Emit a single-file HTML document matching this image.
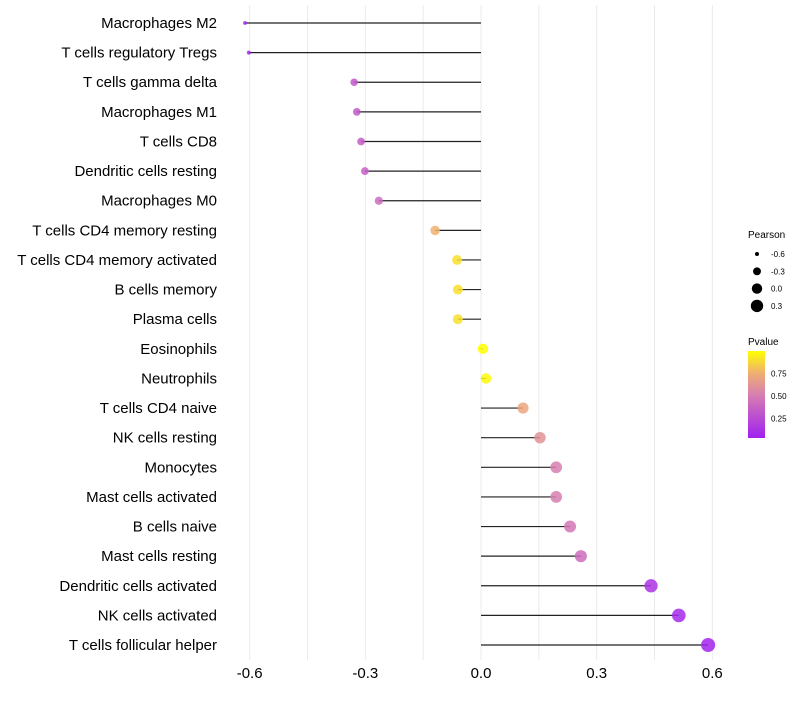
<!DOCTYPE html>
<html><head><meta charset="utf-8"><style>
body{margin:0;background:#fff;font-family:"Liberation Sans",sans-serif}
</style></head><body>
<svg id="chart" width="800" height="700" xmlns="http://www.w3.org/2000/svg" font-family="Liberation Sans, sans-serif">
<defs><linearGradient id="pg" x1="0" y1="1" x2="0" y2="0">
<stop offset="0" stop-color="#a020f0"/><stop offset="0.5" stop-color="#d77fb0"/><stop offset="0.75" stop-color="#f0b070"/><stop offset="1" stop-color="#ffff00"/></linearGradient></defs>
<g id="grid"></g><g id="marks"></g><g id="labels"></g><g id="xticks"></g>
<g>
<text x="748" y="238" font-size="10">Pearson</text>
<g id="sizeLegend"></g>
<text x="748" y="345" font-size="10">Pvalue</text>
<rect x="748" y="351" width="17" height="87" fill="url(#pg)"/>
<g id="colorLegend"></g>
</g>
</svg>
<script>
const categories=["Macrophages M2","T cells regulatory  Tregs","T cells gamma delta","Macrophages M1","T cells CD8","Dendritic cells resting","Macrophages M0","T cells CD4 memory resting","T cells CD4 memory activated","B cells memory","Plasma cells","Eosinophils","Neutrophils","T cells CD4 naive","NK cells resting","Monocytes","Mast cells activated","B cells naive","Mast cells resting","Dendritic cells activated","NK cells activated","T cells follicular helper"];
const pearson=[-0.612,-0.602,-0.329,-0.322,-0.311,-0.301,-0.265,-0.119,-0.062,-0.06,-0.06,0.005,0.013,0.109,0.153,0.195,0.195,0.231,0.259,0.441,0.513,0.589];
const pvalues=[0.02,0.03,0.3,0.3,0.32,0.33,0.4,0.75,0.9,0.9,0.9,1.0,0.98,0.7,0.6,0.5,0.5,0.45,0.4,0.1,0.05,0.02];
const xTicks=[-0.6,-0.3,0,0.3,0.6];
const xTickLabels=["-0.6","-0.3","0.0","0.3","0.6"];
const sizeLegendVals=[-0.6,-0.3,0.0,0.3];
const colorLegendVals=[0.25,0.5,0.75];
const NS="http://www.w3.org/2000/svg";
const x=v=>481+v*385.6;
const y=i=>23+i*29.62;
const r=v=>Math.sqrt(Math.max(3,4+46*(v+0.6)/1.2));
const stops=[[0,[160,32,240]],[0.5,[215,127,176]],[0.75,[240,176,112]],[1,[255,255,0]]];
function col(p){for(let k=1;k<stops.length;k++){if(p<=stops[k][0]){const a=stops[k-1],b=stops[k],t=(p-a[0])/(b[0]-a[0]);return "rgb("+a[1].map((c,j)=>Math.round(c+(b[1][j]-c)*t)).join(",")+")";}}return "rgb(255,255,0)";}
function mk(tag,attrs,parent){const e=document.createElementNS(NS,tag);for(const k in attrs)e.setAttribute(k,attrs[k]);document.getElementById(parent).appendChild(e);return e;}
for(let v=-0.6;v<=0.61;v+=0.15){const g=mk("line",{x1:x(v),x2:x(v),y1:5,y2:660,stroke:"#ebebeb","stroke-width":1},"grid");

}
xTicks.forEach((t,i)=>{const e=mk("text",{x:x(t),y:678,"font-size":15,"text-anchor":"middle",fill:"#000"},"xticks");e.textContent=xTickLabels[i];

});
categories.forEach((c,i)=>{
const t=mk("text",{x:217,y:y(i)+5,"font-size":15,"text-anchor":"end",fill:"#000"},"labels");t.textContent=c;


const l=mk("line",{x1:x(0),x2:x(pearson[i]),y1:y(i),y2:y(i),stroke:"#222","stroke-width":1.2},"marks");


const d=mk("circle",{cx:x(pearson[i]),cy:y(i),r:r(pearson[i]),fill:col(pvalues[i]),"fill-opacity":0.85},"marks");


});
sizeLegendVals.forEach((v,i)=>{const cy=254+i*17.3;
const c=mk("circle",{cx:757,cy:cy,r:r(v),fill:"#000"},"sizeLegend");


const t=mk("text",{x:771,y:cy+3,"font-size":8},"sizeLegend");t.textContent=v.toFixed(1);

});
colorLegendVals.forEach(p=>{const cy=438-(p-0.03)/0.97*87;
const t=mk("text",{x:771,y:cy+3,"font-size":8},"colorLegend");t.textContent=p.toFixed(2);

});
</script>
</body></html>
